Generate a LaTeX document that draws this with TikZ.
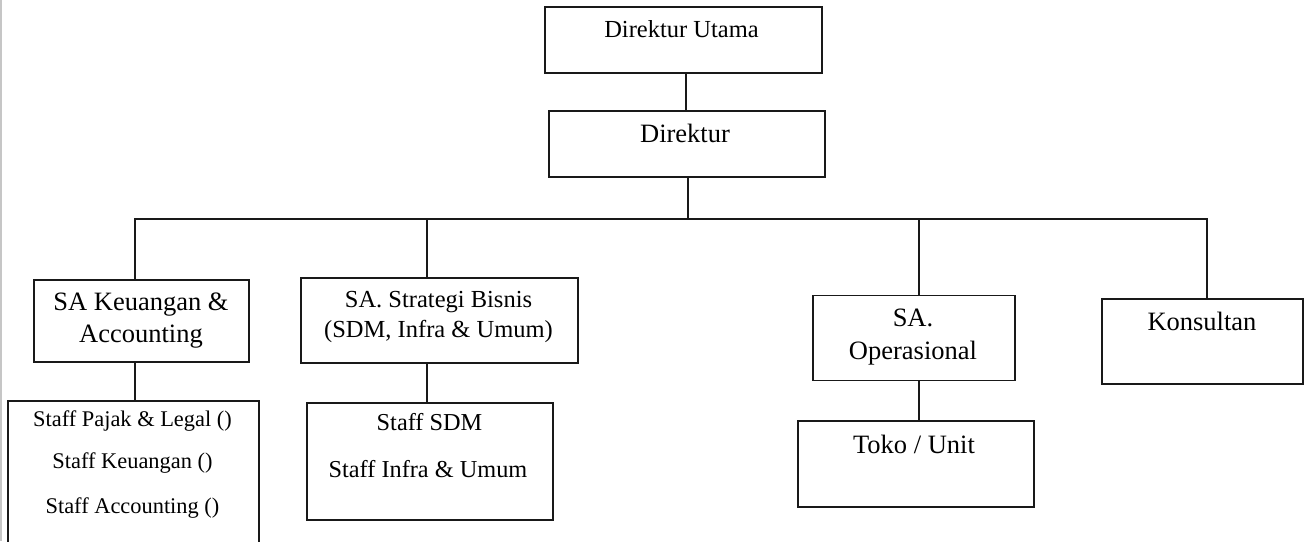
\documentclass[tikz,border=0pt]{standalone}
\usepackage{fontspec}
\setmainfont{Liberation Serif}
\begin{document}
\begin{tikzpicture}[x=1pt,y=-1pt,
  box/.style={draw=black!90, line width=1.9pt, rectangle, inner sep=0pt},
  conn/.style={draw=black!90, line width=1.9pt},
  txt/.style={inner sep=0pt, text height=17.5pt, text depth=0pt, font=\fontsize{26.5}{30}\selectfont},
  txtsmall/.style={txt, text height=16.2pt, font=\fontsize{24.5}{28}\selectfont},
  txtmid/.style={txt, text height=16.2pt, font=\fontsize{24.5}{28}\selectfont},
  txtstaffa/.style={txt, text height=14.8pt, font=\fontsize{22.4}{26}\selectfont},
  txtstaffb/.style={txt, text height=16.1pt, font=\fontsize{24.3}{28}\selectfont}]
\useasboundingbox (0,0) rectangle (1305,541);
\fill[white] (0,0) rectangle (1305,541);
\draw[gray!45, line width=1.5pt] (0.75,0) -- (0.75,541);

% boxes
\node[box, minimum width=277pt, minimum height=66pt] (du) at (683.5,40) {};
\node[box, minimum width=276pt, minimum height=66pt] (dir) at (687,144) {};
\node[box, minimum width=215pt, minimum height=82pt] (sak) at (141.5,321) {};
\node[box, minimum width=251pt, minimum height=170pt] (st1) at (133.5,486) {};
\node[box, minimum width=277pt, minimum height=85pt] (sas) at (439.5,320.5) {};
\node[box, minimum width=246pt, minimum height=117pt] (st2) at (430,461.5) {};
\node[box, minimum width=202pt, minimum height=85pt] (sao) at (914,338) {};
\node[box, minimum width=236pt, minimum height=86pt] (toko) at (916,464) {};
\node[box, minimum width=201pt, minimum height=85pt] (kon) at (1202.5,341.5) {};

% texts
\node[txtsmall] (dut) at (681.5,29) {Direktur Utama};
\node[txt] (dirt) at (685,134) {Direktur};
\node[txt] (sakt1) at (141,302) {SA Keuangan \&};
\node[txt] (sakt2) at (141,334) {Accounting};
\node[txtmid] (sast1) at (438.5,299) {SA. Strategi Bisnis};
\node[txtmid] (sast2) at (438.5,329) {(SDM, Infra \& Umum)};
\node[txt] (saot1) at (913,318) {SA.};
\node[txt] (saot2) at (913,351) {Operasional};
\node[txt] (kont) at (1202,322) {Konsultan};
\node[txt] (tokot) at (914,445) {Toko / Unit};
\node[txtstaffa] (st1a) at (132.5,419) {Staff Pajak \& Legal ()};
\node[txtstaffa] (st1b) at (132.5,461) {Staff Keuangan ()};
\node[txtstaffa] (st1c) at (132.5,506) {Staff Accounting ()};
\node[txtstaffb] (st2a) at (429.5,422) {Staff SDM};
\node[txtstaffb] (st2b) at (428,469) {Staff Infra \& Umum};

% connector coordinates
\coordinate (xtop) at (686,0);
\coordinate (xdir) at (688,0);
\coordinate (xsak) at (135,0);
\coordinate (xsas) at (427,0);
\coordinate (xsao) at (919,0);
\coordinate (xkon) at (1207,0);
\coordinate (busL) at (134,219);
\coordinate (busR) at (1208,219);

\draw[conn] (xtop |- du.south) -- (xtop |- dir.north);
\draw[conn] (xdir |- dir.south) -- (xdir |- busL);
\draw[conn] (busL) -- (busR);
\draw[conn] (xsak |- busL) -- (xsak |- sak.north);
\draw[conn] (xsas |- busL) -- (xsas |- sas.north);
\draw[conn] (xsao |- busL) -- (xsao |- sao.north);
\draw[conn] (xkon |- busL) -- (xkon |- kon.north);
\draw[conn] (xsak |- sak.south) -- (xsak |- st1.north);
\draw[conn] (xsas |- sas.south) -- (xsas |- st2.north);
\draw[conn] (xsao |- sao.south) -- (xsao |- toko.north);
\end{tikzpicture}
\end{document}
